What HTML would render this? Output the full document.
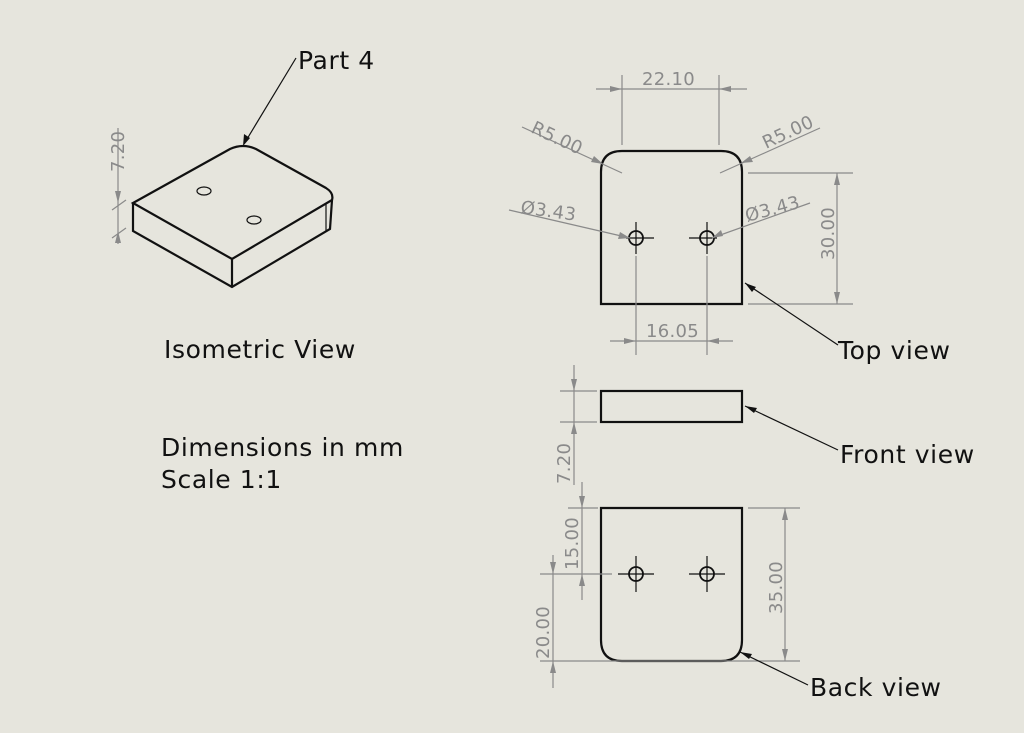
<!DOCTYPE html>
<html><head><meta charset="utf-8"><style>
html,body{margin:0;padding:0;background:#e6e5dd;}
svg{display:block;}
.k{stroke:#111;stroke-width:2.2;fill:none;}
.t{stroke:#111;stroke-width:1.2;fill:none;}
.d{stroke:#8a8a8a;stroke-width:1.2;fill:none;}
.dt{fill:#8a8a8a;font-family:"DejaVu Sans","Liberation Sans",sans-serif;font-size:18px;letter-spacing:0.3px;}
.lb{fill:#111;font-family:"DejaVu Sans","Liberation Sans",sans-serif;font-size:25px;letter-spacing:0.6px;}
.ar{fill:#8a8a8a;}
.ak{fill:#111;}
</style></head><body>
<svg width="1024" height="733" viewBox="0 0 1024 733">
<rect width="1024" height="733" fill="#e6e5dd"/>

<g>
<path class="k" d="M133,203 L230,149 Q243,143 256,149 L326,188 Q334,193 332,200 L232,259 Z"/>
<path class="k" d="M133,203 L133,231 L232,287 L330,229 L332,200"/>
<line class="k" x1="232" y1="259" x2="232" y2="287"/>
<line class="t" x1="326" y1="204" x2="326" y2="232"/>
<ellipse class="t" cx="204" cy="191" rx="7" ry="4"/>
<ellipse class="t" cx="254" cy="220" rx="7" ry="4"/>
<line class="d" x1="118" y1="128" x2="118" y2="244"/>
<line class="d" x1="112" y1="210" x2="126" y2="200"/>
<line class="d" x1="112" y1="238" x2="126" y2="228"/>
<polygon class="ar" points="118,203 115,191 121,191"/>
<polygon class="ar" points="118,231 115,243 121,243"/>
<text class="dt" transform="translate(124,172) rotate(-90)">7.20</text>
<line class="t" x1="296" y1="58" x2="244" y2="144"/>
<polygon class="ak" points="243,146 244,134 250,138"/>
<text class="lb" x="298" y="69">Part 4</text>
<text class="lb" x="164" y="358">Isometric View</text>
</g>

<text class="lb" x="161" y="456">Dimensions in mm</text>
<text class="lb" x="161" y="488">Scale 1:1</text>

<g>
<path class="k" d="M601,304 L601,172 Q601,151 622,151 L721,151 Q742,151 742,172 L742,304 Z"/>
<circle class="k" cx="636" cy="238" r="7" style="stroke-width:1.8"/>
<circle class="k" cx="707" cy="238" r="7" style="stroke-width:1.8"/>
<line class="t" x1="626" y1="238" x2="654" y2="238"/><line class="t" x1="636" y1="222" x2="636" y2="254"/>
<line class="t" x1="689" y1="238" x2="717" y2="238"/><line class="t" x1="707" y1="222" x2="707" y2="254"/>
<line class="d" x1="622" y1="75" x2="622" y2="145"/>
<line class="d" x1="719" y1="75" x2="719" y2="145"/>
<line class="d" x1="596" y1="89" x2="747" y2="89"/>
<polygon class="ar" points="622,89 610,86 610,92"/>
<polygon class="ar" points="719,89 731,86 731,92"/>
<text class="dt" x="642" y="85">22.10</text>
<line class="d" x1="522" y1="127" x2="622" y2="173"/>
<polygon class="ar" points="603,164 591,162 594,156"/>
<text class="dt" transform="translate(530,132) rotate(25)">R5.00</text>
<line class="d" x1="820" y1="128" x2="720" y2="173"/>
<polygon class="ar" points="741,163 750,156 753,162"/>
<text class="dt" transform="translate(766,149) rotate(-25)">R5.00</text>
<line class="d" x1="509" y1="210" x2="630" y2="238"/>
<polygon class="ar" points="630,238 618,239 620,232"/>
<text class="dt" transform="translate(520,213) rotate(8)">Ø3.43</text>
<line class="d" x1="810" y1="203" x2="712" y2="238"/>
<polygon class="ar" points="712,238 721,230 723,236"/>
<text class="dt" transform="translate(747,222) rotate(-15)">Ø3.43</text>
<line class="d" x1="748" y1="173" x2="853" y2="173"/>
<line class="d" x1="748" y1="304" x2="853" y2="304"/>
<line class="d" x1="837" y1="173" x2="837" y2="304"/>
<polygon class="ar" points="837,173 834,185 840,185"/>
<polygon class="ar" points="837,304 834,292 840,292"/>
<text class="dt" transform="translate(834,260) rotate(-90)">30.00</text>
<line class="d" x1="636" y1="256" x2="636" y2="355"/>
<line class="d" x1="707" y1="256" x2="707" y2="355"/>
<line class="d" x1="610" y1="341" x2="733" y2="341"/>
<polygon class="ar" points="636,341 624,338 624,344"/>
<polygon class="ar" points="707,341 719,338 719,344"/>
<text class="dt" x="646" y="337">16.05</text>
<line class="t" x1="838" y1="345" x2="745" y2="283"/>
<polygon class="ak" points="745,283 756,287 752,292"/>
<text class="lb" x="838" y="359">Top view</text>
</g>

<g>
<rect class="k" x="601" y="391" width="141" height="31"/>
<line class="d" x1="560" y1="391" x2="597" y2="391"/>
<line class="d" x1="560" y1="422" x2="597" y2="422"/>
<line class="d" x1="574" y1="365" x2="574" y2="485"/>
<polygon class="ar" points="574,391 571,379 577,379"/>
<polygon class="ar" points="574,422 571,434 577,434"/>
<text class="dt" transform="translate(570,484) rotate(-90)">7.20</text>
<line class="t" x1="838" y1="450" x2="745" y2="406"/>
<polygon class="ak" points="745,406 757,408 754,413"/>
<text class="lb" x="840" y="463">Front view</text>
</g>

<g>
<path class="k" d="M601,508 L742,508 L742,640 Q742,661 721,661 L622,661 Q601,661 601,640 Z"/>
<circle class="k" cx="636" cy="574" r="7" style="stroke-width:1.8"/>
<circle class="k" cx="707" cy="574" r="7" style="stroke-width:1.8"/>
<line class="t" x1="618" y1="574" x2="654" y2="574"/><line class="t" x1="636" y1="556" x2="636" y2="592"/>
<line class="t" x1="689" y1="574" x2="725" y2="574"/><line class="t" x1="707" y1="556" x2="707" y2="592"/>
<line class="d" x1="568" y1="508" x2="598" y2="508"/>
<line class="d" x1="748" y1="508" x2="800" y2="508"/>
<line class="d" x1="540" y1="574" x2="612" y2="574"/>
<line class="d" x1="540" y1="661" x2="800" y2="661"/>
<line class="d" x1="785" y1="508" x2="785" y2="661"/>
<polygon class="ar" points="785,508 782,520 788,520"/>
<polygon class="ar" points="785,661 782,649 788,649"/>
<text class="dt" transform="translate(782,614) rotate(-90)">35.00</text>
<line class="d" x1="582" y1="482" x2="582" y2="600"/>
<polygon class="ar" points="582,508 579,496 585,496"/>
<polygon class="ar" points="582,574 579,586 585,586"/>
<text class="dt" transform="translate(578,570) rotate(-90)">15.00</text>
<line class="d" x1="553" y1="555" x2="553" y2="688"/>
<polygon class="ar" points="553,574 550,562 556,562"/>
<polygon class="ar" points="553,661 550,673 556,673"/>
<text class="dt" transform="translate(549,659) rotate(-90)">20.00</text>
<line class="t" x1="808" y1="685" x2="740" y2="652"/>
<polygon class="ak" points="740,652 752,654 749,659"/>
<text class="lb" x="810" y="696">Back view</text>
</g>
</svg>
</body></html>
